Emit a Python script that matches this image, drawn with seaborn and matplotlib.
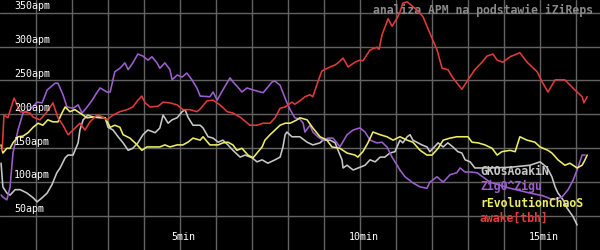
import matplotlib
matplotlib.use("Agg")
import matplotlib.pyplot as plt
import seaborn as sns
import pandas as pd

# ---- data (minutes, APM) ----
players = ["GKOsAoakiN", "ZigO^Zigu", "rEvolutionChaoS", "awake[tbh]"]
colors = ["#c8c8c8", "#9d5fcf", "#eeee66", "#e23a3a"]

grey_t = [0.03, 0.08, 0.19, 0.28, 0.42, 0.56, 0.75, 0.92, 1.03, 1.17, 1.31, 1.44, 1.58, 1.67, 1.81, 1.89,
          2.03, 2.17, 2.22, 2.31, 2.44, 2.58, 2.78, 2.92, 3.0, 3.14, 3.28, 3.42, 3.56, 3.69, 3.83, 3.97,
          4.11, 4.31, 4.44, 4.53, 4.67, 4.78, 4.92, 5.06, 5.14, 5.22, 5.36, 5.56, 5.64, 5.78, 5.92, 6.06,
          6.19, 6.33, 6.47, 6.67, 6.81, 7.0, 7.14, 7.28, 7.44, 7.64, 7.78, 7.86, 7.92, 7.97, 8.11, 8.25,
          8.33, 8.53, 8.69, 8.89, 8.97, 9.17, 9.31, 9.39, 9.5, 9.53, 9.64, 9.81, 10.0, 10.14, 10.28, 10.42,
          10.56, 10.69, 10.83, 10.97, 11.11, 11.19, 11.31, 11.39, 11.47, 11.61, 11.72, 11.86, 11.94, 12.03,
          12.17, 12.31, 12.44, 12.58, 12.72, 12.83, 12.92, 13.06, 13.19, 13.61, 14.17, 14.72, 15.0, 15.19,
          15.33, 15.42, 15.5, 15.64, 15.75, 15.92, 16.03]
grey_apm = [128, 93, 84, 81, 89, 89, 84, 77, 71, 77, 84, 96, 114, 121, 136, 140,
            140, 158, 177, 192, 199, 196, 196, 195, 181, 177, 167, 158, 147, 150, 158, 170,
            177, 173, 180, 199, 187, 192, 195, 204, 207, 196, 184, 184, 180, 167, 165, 159,
            162, 155, 147, 137, 140, 136, 130, 133, 128, 133, 137, 152, 170, 174, 167, 167,
            167, 159, 155, 158, 162, 162, 158, 147, 133, 121, 125, 118, 122, 125, 133, 130,
            137, 137, 143, 145, 162, 158, 167, 170, 162, 158, 155, 152, 145, 150,
            158, 152, 158, 152, 145, 143, 133, 130, 121, 121, 122, 125, 130, 122,
            108, 93, 84, 74, 62, 49, 37]

purple_t = [0.03, 0.08, 0.19, 0.28, 0.36, 0.5, 0.64, 0.83, 1.03, 1.17, 1.31, 1.53, 1.61, 1.75, 1.86, 2.03,
            2.17, 2.28, 2.42, 2.56, 2.69, 2.78, 2.97, 3.06, 3.19, 3.33, 3.47, 3.56, 3.69, 3.83, 3.97, 4.11,
            4.22, 4.36, 4.44, 4.58, 4.72, 4.78, 4.92, 5.06, 5.19, 5.33, 5.47, 5.56, 5.83, 5.92, 6.03, 6.19,
            6.39, 6.47, 6.61, 6.72, 6.86, 7.03, 7.31, 7.42, 7.56, 7.64, 7.78, 7.97, 8.06, 8.19, 8.33, 8.42,
            8.47, 8.61, 8.69, 8.83, 8.97, 9.11, 9.25, 9.36, 9.44, 9.64, 9.81, 10.0, 10.14, 10.28, 10.47, 10.61,
            10.75, 10.89, 11.03, 11.11, 11.25, 11.47, 11.67, 11.86, 11.94, 12.14, 12.31, 12.5, 12.69, 12.78,
            12.92, 13.06, 13.25, 13.61, 14.17, 14.72, 15.08, 15.36, 15.61, 15.78, 15.92, 16.03, 16.17, 16.25]
purple_apm = [81, 78, 74, 93, 143, 177, 202, 207, 218, 217, 236, 246, 246, 229, 211, 209,
              214, 202, 211, 221, 232, 239, 233, 233, 263, 268, 276, 266, 276, 289, 286, 280,
              285, 276, 268, 276, 266, 251, 258, 255, 261, 251, 239, 227, 226, 233, 221, 236,
              254, 248, 240, 233, 239, 236, 232, 239, 248, 249, 243, 217, 207, 195, 193, 187,
              174, 184, 174, 167, 162, 165, 165, 158, 152, 170, 177, 180, 174, 162, 158, 159,
              152, 137, 125, 118, 108, 99, 93, 91, 100, 108, 100, 111, 114, 121,
              115, 115, 114, 100, 91, 84, 80, 74, 78, 89, 103, 118, 140, 140]

yellow_t = [0.03, 0.08, 0.19, 0.28, 0.36, 0.5, 0.64, 0.78, 0.92, 1.06, 1.19, 1.33, 1.47, 1.61, 1.72, 1.81,
            1.94, 2.08, 2.22, 2.42, 2.58, 2.78, 2.92, 3.06, 3.19, 3.33, 3.42, 3.61, 3.81, 3.94, 4.08, 4.25,
            4.44, 4.58, 4.72, 4.92, 5.08, 5.22, 5.36, 5.56, 5.64, 5.83, 6.06, 6.19, 6.33, 6.47, 6.58, 6.72,
            6.89, 7.03, 7.17, 7.28, 7.36, 7.5, 7.64, 7.78, 7.92, 8.06, 8.25, 8.33, 8.53, 8.69, 8.89, 9.08,
            9.22, 9.44, 9.64, 9.86, 9.94, 10.08, 10.22, 10.36, 10.56, 10.75, 10.92, 11.11, 11.31, 11.47, 11.67,
            11.86, 12.0, 12.17, 12.31, 12.5, 12.69, 12.83, 13.0, 13.11, 13.28, 13.47, 13.67, 13.81, 13.94,
            14.17, 14.31, 14.44, 14.64, 14.86, 15.0, 15.22, 15.33, 15.5, 15.69, 15.83, 16.03, 16.17, 16.25, 16.31]
yellow_apm = [155, 143, 150, 150, 158, 167, 168, 173, 181, 187, 184, 192, 189, 189, 202, 211,
              204, 207, 202, 195, 196, 195, 195, 181, 184, 181, 170, 165, 155, 147, 152, 152,
              152, 155, 152, 155, 155, 159, 165, 162, 167, 155, 155, 158, 159, 155, 147, 150,
              140, 136, 145, 152, 162, 170, 177, 184, 187, 187, 192, 195, 192, 180, 167, 162,
              152, 150, 143, 140, 137, 145, 158, 174, 170, 167, 162, 167, 162, 159, 147,
              140, 140, 150, 162, 165, 167, 167, 167, 159, 158, 155, 150, 140, 145,
              147, 145, 167, 162, 159, 152, 147, 143, 133, 125, 128, 121, 125, 133, 140]

red_t = [0.06, 0.11, 0.22, 0.39, 0.56, 0.83, 0.92, 1.11, 1.31, 1.47, 1.61, 1.75, 1.89, 2.03, 2.22, 2.36,
         2.5, 2.69, 2.78, 2.97, 3.14, 3.33, 3.53, 3.69, 3.83, 3.94, 4.03, 4.17, 4.39, 4.53, 4.72, 4.92,
         5.08, 5.28, 5.47, 5.56, 5.75, 5.92, 6.11, 6.31, 6.47, 6.67, 6.94, 7.14, 7.31, 7.5, 7.64, 7.78,
         7.92, 8.11, 8.19, 8.33, 8.47, 8.61, 8.69, 8.83, 8.94, 9.17, 9.31, 9.39, 9.53, 9.67, 9.86, 10.0,
         10.08, 10.28, 10.47, 10.53, 10.61, 10.78, 10.89, 11.03, 11.11, 11.19, 11.31, 11.58, 11.75, 11.94,
         12.14, 12.28, 12.44, 12.58, 12.83, 13.0, 13.19, 13.39, 13.53, 13.69, 13.81, 13.97, 14.17, 14.44,
         14.64, 14.92, 15.06, 15.22, 15.42, 15.69, 15.97, 16.17, 16.22, 16.31]
red_apm = [147, 199, 195, 224, 204, 202, 196, 192, 204, 217, 195, 184, 170, 177, 187, 177,
           189, 199, 198, 192, 199, 204, 207, 211, 221, 227, 217, 211, 212, 218, 217, 214,
           207, 207, 204, 208, 220, 221, 214, 204, 202, 196, 184, 184, 187, 187, 195, 209,
           211, 218, 215, 220, 226, 229, 226, 248, 264, 270, 273, 276, 283, 270, 277, 280,
           279, 295, 299, 296, 317, 341, 330, 342, 351, 364, 366, 354, 344, 320,
           295, 268, 266, 254, 237, 251, 266, 277, 286, 289, 280, 277, 285, 291,
           277, 263, 248, 233, 251, 251, 236, 226, 217, 226]

y_ticks = [50, 100, 150, 200, 250, 300, 350]
x_ticks = [5, 10, 15]
title = "analiza APM na podstawie iZiReps"

# ---- build long table ----
frames = []
for name, t, v in zip(players,
                      [grey_t, purple_t, yellow_t, red_t],
                      [grey_apm, purple_apm, yellow_apm, red_apm]):
    frames.append(pd.DataFrame({"min": t, "apm": v, "player": name}))
df = pd.concat(frames, ignore_index=True)

sns.set_style("dark")
plt.rcParams["font.family"] = ["DejaVu Sans Mono", "DejaVu Sans"]

fig = plt.figure(figsize=(6, 2.5), dpi=100, facecolor="black")
ax = fig.add_axes([0, 0, 1, 1])
ax.set_facecolor("black")

ax.set_xlim(0, 600 / 36)
ax.set_ylim(0, 368.7)

# grid
for m in range(1, 17):
    ax.axvline(m, color="#626262", lw=1.0, zorder=0)
for v in y_ticks:
    ax.axhline(v, color="#626262", lw=1.0, zorder=0)

sns.lineplot(data=df, x="min", y="apm", hue="player", hue_order=players,
             palette=dict(zip(players, colors)), estimator=None, sort=False,
             lw=1.15, legend=False, ax=ax, zorder=3)

for s in ax.spines.values():
    s.set_visible(False)
ax.set_xticks([])
ax.set_yticks([])
ax.set_xlabel("")
ax.set_ylabel("")

# y labels
for v in y_ticks:
    ax.text(0.39, v + 10, f"{v}apm", color="white", fontsize=7.2,
            ha="left", va="center", zorder=5)
# x labels
for m in x_ticks:
    ax.text(m + 0.1, 19, f"{m}min", color="white", fontsize=7.2,
            ha="center", va="center", zorder=5)

# title (drawn beneath the lines, as in the reference)
ax.text(16.47, 354, title, color="#8a8a8a", fontsize=8.3, fontweight="bold",
        ha="right", va="center", zorder=2)

# legend as colored text
leg_y = [116.5, 93, 69, 47]
for name, c, yy in zip(players, colors, leg_y):
    ax.text(13.33, yy, name, color=c, fontsize=8.3, fontweight="bold",
            ha="left", va="center", zorder=6)

fig.savefig("out.png", dpi=100, facecolor="black")
